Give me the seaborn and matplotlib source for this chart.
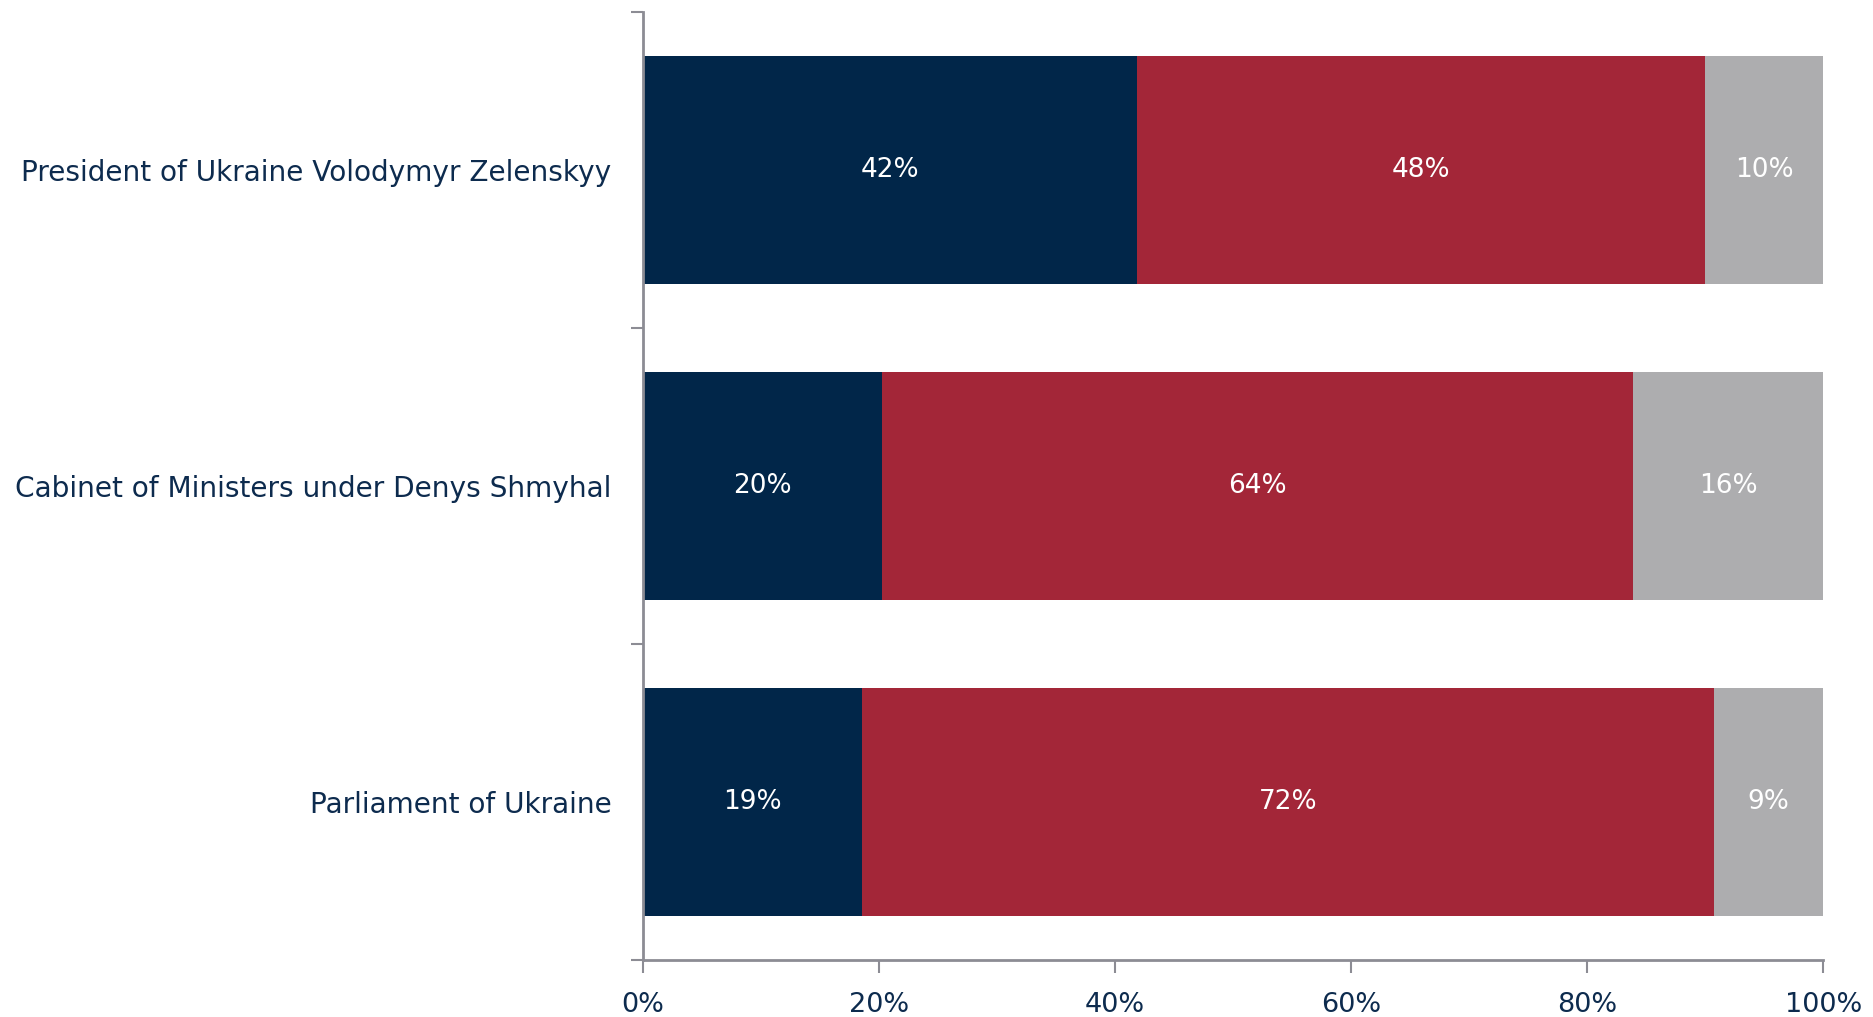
import numpy as np
import matplotlib.pyplot as plt
import pandas as pd
import seaborn as sns

institutions = ['President of Ukraine Volodymyr Zelenskyy',
                'Cabinet of Ministers under Denys Shmyhal',
                'Parliament of Ukraine']
trust = [41.9, 20.3, 18.6]
distrust = [48.1, 63.6, 72.1]
hard_to_say = [10.0, 16.1, 9.3]
labels_trust = ['42%', '20%', '19%']
labels_distrust = ['48%', '64%', '72%']
labels_hts = ['10%', '16%', '9%']

navy = '#012649'
red = '#A32638'
grey = '#ADADAF'
text_col = '#0D2B4E'
axis_col = '#8C8C94'

df = pd.DataFrame({'inst': institutions, 'trust': trust,
                   'distrust': distrust, 'hts': hard_to_say})
df['c1'] = df['trust']
df['c2'] = df['trust'] + df['distrust']
df['c3'] = df['c2'] + df['hts']

sns.set_style('white')
fig = plt.figure(figsize=(18.74, 10.17), dpi=100)
ax = fig.add_axes([0.343, 0.056, 0.630, 0.932])

# stacked bars by overlaying cumulative totals
for col, c in [('c3', grey), ('c2', red), ('c1', navy)]:
    sns.barplot(data=df, y='inst', x=col, color=c, width=0.72, ax=ax,
                saturation=1, orient='h', linewidth=0)

lbl_font = dict(color='white', fontsize=19, ha='center', va='center')
for i in range(len(df)):
    ax.text(df['trust'][i] / 2, i, labels_trust[i], **lbl_font)
    ax.text(df['c1'][i] + df['distrust'][i] / 2, i, labels_distrust[i], **lbl_font)
    ax.text(df['c2'][i] + df['hts'][i] / 2, i, labels_hts[i], **lbl_font)

ax.set_xlim(0, 100)
ax.set_ylim(2.5, -0.5)
ax.set_xlabel('')
ax.set_ylabel('')
ax.set_xticks(np.arange(0, 101, 20))
ax.set_xticklabels([f'{v}%' for v in range(0, 101, 20)], fontsize=19.5, color=text_col)
ax.set_yticks(range(len(institutions)))
ax.set_yticklabels(institutions, fontsize=20.2, color=text_col)
ax.set_yticks([-0.5, 0.5, 1.5, 2.5], minor=True)
ax.tick_params(axis='y', which='major', length=0, pad=22.5, left=False)
ax.tick_params(axis='y', which='minor', length=9, color=axis_col, width=1.5,
               direction='out', left=True)
ax.tick_params(axis='x', length=9, color=axis_col, width=1.5, direction='out',
               pad=14, bottom=True)

for s in ['top', 'right']:
    ax.spines[s].set_visible(False)
for s in ['left', 'bottom']:
    ax.spines[s].set_color(axis_col)
    ax.spines[s].set_linewidth(2)

fig.savefig('out.png', dpi=100)
